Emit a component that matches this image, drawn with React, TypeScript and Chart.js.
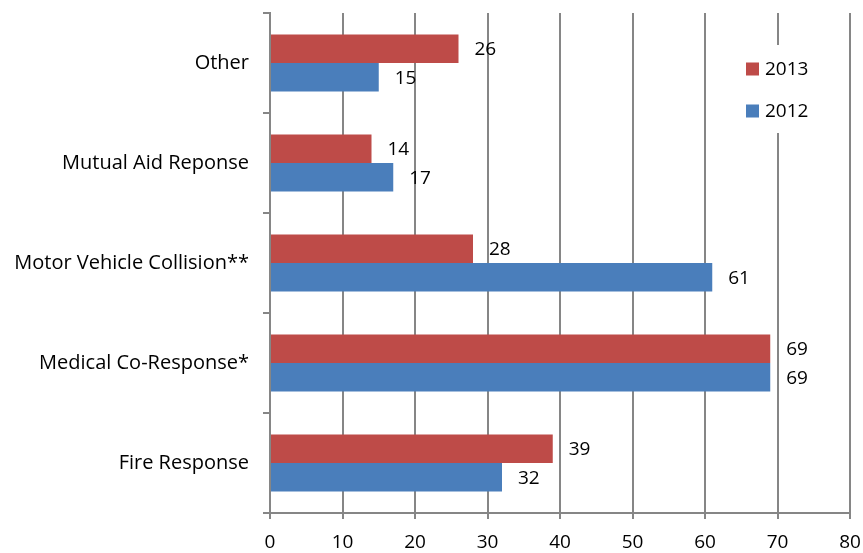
import React, { useEffect, useRef } from "react";
import { Chart, registerables } from "chart.js";

Chart.register(...registerables);

const categories = [
  "Other",
  "Mutual Aid Reponse",
  "Motor Vehicle Collision**",
  "Medical Co-Response*",
  "Fire Response",
];
const values2013 = [26, 14, 28, 69, 39];
const values2012 = [15, 17, 61, 69, 32];
const seriesLabels = ["2013", "2012"];
const xTickMax = 80;
const xTickStep = 10;

const RED = "#BE4B48";
const BLUE = "#4A7EBB";
const GRID = "#868686";
const FONT = "'Open Sans', 'DejaVu Sans', sans-serif";
const NUM_SIZE = 19;
const CAT_SIZE = 20;

const labelPlugin = {
  id: "valueLabels",
  afterDatasetsDraw(chart: any) {
    const ctx = chart.ctx;
    ctx.save();
    ctx.font = `${NUM_SIZE}px ${FONT}`;
    ctx.fillStyle = "#000";
    ctx.textAlign = "left";
    ctx.textBaseline = "middle";
    chart.data.datasets.forEach((ds: any, di: number) => {
      const meta = chart.getDatasetMeta(di);
      meta.data.forEach((bar: any, i: number) => {
        ctx.fillText(String(ds.data[i]), bar.x + 16, bar.y + 1);
      });
    });
    ctx.restore();
  },
};

const legendPlugin = {
  id: "boxLegend",
  afterDraw(chart: any) {
    const ctx = chart.ctx;
    const area = chart.chartArea;
    ctx.save();
    const bx = area.right - 104;
    const by = area.top + 32;
    ctx.fillStyle = "#fff";
    ctx.fillRect(bx - 10, by, 90, 88);
    ctx.font = `${NUM_SIZE}px ${FONT}`;
    ctx.textAlign = "left";
    ctx.textBaseline = "middle";
    chart.data.datasets.forEach((ds: any, i: number) => {
      const cy = by + 24 + i * 42;
      ctx.fillStyle = ds.backgroundColor;
      ctx.fillRect(bx, cy - 6.5, 13, 13);
      ctx.fillStyle = "#000";
      ctx.fillText(ds.label, bx + 19, cy + 1);
    });
    ctx.restore();
  },
};

export default function App() {
  const ref = useRef<HTMLCanvasElement>(null);
  useEffect(() => {
    if (!ref.current) return;
    const chart = new Chart(ref.current, {
      type: "bar",
      data: {
        labels: categories,
        datasets: [
          { label: seriesLabels[0], data: values2013, backgroundColor: RED },
          { label: seriesLabels[1], data: values2012, backgroundColor: BLUE },
        ],
      },
      options: {
        indexAxis: "y",
        responsive: false,
        animation: false,
        events: [],
        layout: { padding: { top: 13, right: 13, left: 0, bottom: 0 } },
        datasets: {
          bar: { categoryPercentage: 0.57, barPercentage: 1 },
        },
        plugins: {
          legend: { display: false },
          tooltip: { enabled: false },
        },
        scales: {
          x: {
            min: 0,
            max: xTickMax,
            ticks: {
              stepSize: xTickStep,
              color: "#000",
              font: { family: FONT, size: NUM_SIZE },
              padding: 12,
            },
            grid: {
              color: GRID,
              lineWidth: 2,
              tickLength: 6,
            },
            border: { color: GRID, width: 2 },
            afterFit(scale: any) {
              scale.height = 40;
              scale.paddingLeft = 0;
              scale.paddingRight = 0;
            },
          },
          y: {
            ticks: {
              color: "#000",
              font: { family: FONT, size: CAT_SIZE },
              padding: 14,
            },
            grid: {
              drawOnChartArea: false,
              color: GRID,
              lineWidth: 2,
              tickLength: 7,
              offset: true,
            },
            border: { color: GRID, width: 2 },
            afterFit(scale: any) {
              scale.width = 270;
              scale.paddingTop = 0;
              scale.paddingBottom = 0;
            },
          },
        },
      },
      plugins: [labelPlugin, legendPlugin],
    });
    return () => chart.destroy();
  }, []);
  return (
    <div style={{ position: "fixed", left: 0, top: 0, width: 863, height: 553, background: "#fff" }}>
      <canvas ref={ref} width={863} height={553} />
    </div>
  );
}
